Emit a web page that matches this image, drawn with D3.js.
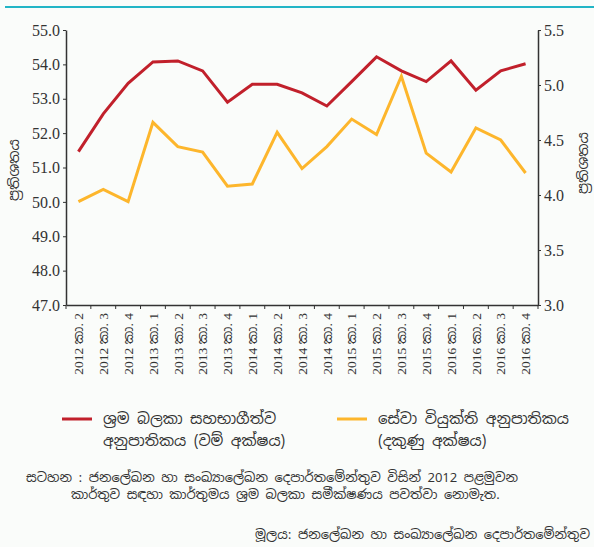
<!DOCTYPE html>
<html>
<head>
<meta charset="utf-8">
<script src="https://cdn.jsdelivr.net/npm/d3@7"></script>
<style>
  body { margin: 0; background: #fafcfa; }
  svg { display: block; }
  .domain, .tick line { stroke: #333; }
  .si { font-family: "Noto Sans Sinhala", "Iskoola Pota", "Noto Sans", sans-serif; fill: #333; }
</style>
</head>
<body>
<svg width="594" height="547"></svg>
<script>
// quarters 2012 Q2 .. 2016 Q4
var years = ["2012","2012","2012","2013","2013","2013","2013","2014","2014","2014","2014",
             "2015","2015","2015","2015","2016","2016","2016","2016"];
var qtrs = [2,3,4,1,2,3,4,1,2,3,4,1,2,3,4,1,2,3,4];
var participation = [51.46,52.56,53.45,54.07,54.1,53.81,52.9,53.42,53.42,53.17,52.79,
                     53.5,54.22,53.81,53.5,54.1,53.25,53.81,54.02];
var unemployment = [3.94,4.05,3.94,4.66,4.44,4.39,4.08,4.10,4.57,4.24,4.44,
                    4.69,4.55,5.08,4.38,4.21,4.61,4.5,4.20];
var leftTicks = [47,48,49,50,51,52,53,54,55];
var rightTicks = [3.0,3.5,4.0,4.5,5.0,5.5];

var cats = years.map(function (y, i) { return y + " කා. " + qtrs[i]; });

var serif = "\"Liberation Serif\", \"DejaVu Serif\", \"Noto Sans Sinhala\", serif";

var margin = { top: 30, left: 66, right: 56, bottom: 242 };
var width = 594 - margin.left - margin.right,
    height = 547 - margin.top - margin.bottom;

var svg = d3.select("svg");

// top rule
svg.append("line").attr("x1", 5).attr("x2", 594).attr("y1", 7).attr("y2", 7)
  .attr("stroke", "#22b5c6").attr("stroke-width", 2);

var g = svg.append("g").attr("transform", "translate(" + margin.left + "," + margin.top + ")");

var x = d3.scaleBand().domain(cats).range([0, width]);
var yL = d3.scaleLinear().domain([47, 55]).range([height, 0]);
var yR = d3.scaleLinear().domain([3, 5.5]).range([height, 0]);

// x axis with ticks at band edges
var xAxis = g.append("g").attr("transform", "translate(0," + height + ")")
  .call(d3.axisBottom(x).tickSize(0).tickPadding(0));
xAxis.select(".domain").attr("stroke-width", 1.5);
xAxis.selectAll(".tick text")
  .style("font-family", serif)
  .style("font-size", "13.5px")
  .style("fill", "#333")
  .attr("text-anchor", "end")
  .attr("transform", "rotate(-90)")
  .attr("x", -8).attr("y", 0).attr("dy", "0.35em");
g.append("g").selectAll("line").data(d3.range(cats.length + 1)).join("line")
  .attr("x1", function (i) { return i * x.step(); })
  .attr("x2", function (i) { return i * x.step(); })
  .attr("y1", height).attr("y2", height + 4)
  .attr("stroke", "#333");

var left = g.append("g").call(d3.axisLeft(yL).tickValues(leftTicks).tickFormat(d3.format(".1f")).tickSize(3).tickSizeOuter(0));
left.selectAll(".tick text").style("font-family", serif).style("fill", "#333").style("font-size", "16px").attr("x", -6);
left.select(".domain").attr("stroke-width", 1.5);

var right = g.append("g").attr("transform", "translate(" + width + ",0)")
  .call(d3.axisRight(yR).tickValues(rightTicks).tickFormat(d3.format(".1f")).tickSize(3).tickSizeOuter(0));
right.selectAll(".tick text").style("font-family", serif).style("fill", "#333").style("font-size", "16px").attr("x", 6);
right.select(".domain").attr("stroke-width", 1.5);

var cx = function (d, i) { return x(cats[i]) + x.bandwidth() / 2; };

g.append("path").datum(unemployment)
  .attr("fill", "none").attr("stroke", "#fdb62c").attr("stroke-width", 3)
  .attr("d", d3.line().x(cx).y(function (d) { return yR(d); }));

g.append("path").datum(participation)
  .attr("fill", "none").attr("stroke", "#c1202b").attr("stroke-width", 3)
  .attr("d", d3.line().x(cx).y(function (d) { return yL(d); }));

// axis titles
svg.append("text").attr("class", "si").attr("transform", "translate(19,170) rotate(-90)")
  .attr("text-anchor", "middle").style("font-size", "14px").text("ප්‍රතිශතය");
svg.append("text").attr("class", "si").attr("transform", "translate(588,163) rotate(-90)")
  .attr("text-anchor", "middle").style("font-size", "14px").text("ප්‍රතිශතය");

// legend
var legend = [
  { color: "#c1202b", x: 62, lines: ["ශ්‍රම බලකා සහභාගීත්ව", "අනුපාතිකය (වම් අක්ෂය)"] },
  { color: "#fdb62c", x: 337, lines: ["සේවා වියුක්ති අනුපාතිකය", "(දකුණු අක්ෂය)"] }
];
var lg = svg.selectAll(".lg").data(legend).join("g").attr("class", "lg");
lg.append("line").attr("x1", function (d) { return d.x; }).attr("x2", function (d) { return d.x + 30; })
  .attr("y1", 419).attr("y2", 419).attr("stroke", function (d) { return d.color; }).attr("stroke-width", 3);
lg.each(function (d) {
  d3.select(this).selectAll("text").data(d.lines).join("text").attr("class", "si")
    .attr("x", d.x + 41).attr("y", function (t, i) { return 419 + i * 22; })
    .attr("dy", "0.35em").style("font-size", "15px").text(function (t) { return t; });
});

// note and source
svg.append("text").attr("class", "si").attr("x", 26).attr("y", 477).attr("dy", "0.35em")
  .style("font-size", "13px").text("සටහන : ජනලේඛන හා සංඛ්‍යාලේඛන දෙපාර්තමේන්තුව විසින් 2012 පළමුවන");
svg.append("text").attr("class", "si").attr("x", 71).attr("y", 494).attr("dy", "0.35em")
  .style("font-size", "13px").text("කාර්තුව සඳහා කාර්තුමය ශ්‍රම බලකා සමීක්ෂණය පවත්වා නොමැත.");
svg.append("text").attr("class", "si").attr("x", 590).attr("y", 534).attr("dy", "0.35em")
  .attr("text-anchor", "end").style("font-size", "13px")
  .text("මූලය: ජනලේඛන හා සංඛ්‍යාලේඛන දෙපාර්තමේන්තුව");
</script>
</body>
</html>
